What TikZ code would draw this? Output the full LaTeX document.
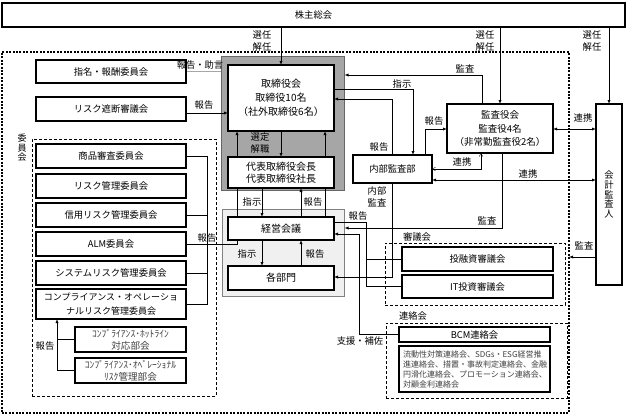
\documentclass[tikz,border=0pt]{standalone}
\usepackage{fontspec}
\setmainfont{Noto Sans CJK JP}
\usetikzlibrary{arrows,backgrounds}

\begin{document}
\begin{tikzpicture}[x=1pt, y=-1pt, >=latex, font=\fontsize{9.3}{12}\selectfont,
  boxsize/.style 2 args={minimum width=#1pt, minimum height=#2pt},
  box/.style={draw, line width=1.6pt, fill=white, inner sep=0pt, outer sep=0pt, align=center},
  frame/.style={draw, line width=0.7pt, dash pattern=on 3pt off 2pt, inner sep=0pt, outer sep=0pt},
  lbl/.style={inner sep=0pt, align=center},
  conn/.style={line width=0.7pt, black!85}]
  \useasboundingbox (0,0) rectangle (627,415);

  % groups
  \begin{scope}[on background layer]
  \node[frame, line width=2.2pt, dash pattern=on 2pt off 1.4pt, boxsize={567}{361}] (group) at (285.5,232.5) {};
  \node[draw=black!60, fill=gray!70, line width=1pt, boxsize={123}{134}, inner sep=0pt] (graybox) at (282.5,123) {};
  \node[draw=gray, fill=black!6, line width=1pt, boxsize={122}{87}, inner sep=0pt]       (mgmt)    at (283,252.5) {};
  \node[frame, boxsize={184}{257}] (iinkai)     at (124,267.5) {};
  \node[frame, boxsize={180}{62}]  (shingikai)  at (475,274)   {};
  \node[frame, boxsize={181}{75}]  (renrakukai) at (476.5,360.5) {};
  \end{scope}

  \node[box, boxsize={623}{24}]                                  (kabu)       at (313.5,15)  {株主総会};
  \node[box, boxsize={106}{66}, font=\fontsize{10}{14}\selectfont]   (board)  at (281,98)    {取締役会\\取締役10名\\（社外取締役6名）};
  \node[box, boxsize={106}{31}, font=\fontsize{10}{12.5}\selectfont] (daihyo) at (281,172.5) {代表取締役会長\\代表取締役社長};
  \node[box, boxsize={106}{23}, font=\fontsize{10}{12}\selectfont]   (keiei)  at (281,228.5) {経営会議};
  \node[box, boxsize={106}{24}, font=\fontsize{10}{12}\selectfont]   (kakubu) at (281,278)   {各部門};
  \node[box, boxsize={79}{28}]                                   (naibu)      at (392.5,169) {内部監査部};
  \node[box, boxsize={106}{49}, font=\fontsize{9.5}{13.5}\selectfont] (kansa) at (500,128.5) {監査役会\\監査役4名\\（非常勤監査役2名）};
  \node[box, boxsize={26}{181}, font=\fontsize{9.3}{9.8}\selectfont]  (kaikei) at (609,194.5) {会\\計\\監\\査\\人};

  \node[box, boxsize={150}{23}]                                  (shimei)     at (111,71.5)  {指名・報酬委員会};
  \node[box, boxsize={150}{24}]                                  (shadan)     at (111,109)   {リスク遮断審議会};
  \node[box, boxsize={150}{24}]                                  (shinsa)     at (111,156)   {商品審査委員会};
  \node[box, boxsize={150}{24}]                                  (riskkanri)  at (111,186)   {リスク管理委員会};
  \node[box, boxsize={150}{24}]                                  (shinyo)     at (111,215)   {信用リスク管理委員会};
  \node[box, boxsize={150}{24}]                                  (alm)        at (111,244)   {ALM委員会};
  \node[box, boxsize={150}{24}]                                  (system)     at (111,273)   {システムリスク管理委員会};
  \node[box, boxsize={150}{30}, font=\fontsize{9}{13.5}\selectfont]  (compliance) at (111,304) {コンプライアンス・オペレーショ\\ナルリスク管理委員会};
  \node[box, boxsize={111}{25}, text=black!75, font=\fontsize{9.6}{12}\selectfont] (hotline) at (130.5,339.5) {ｺﾝﾌﾟﾗｲｱﾝｽ･ﾎｯﾄﾗｲﾝ\\対応部会};
  \node[box, boxsize={111}{25}, text=black!75, font=\fontsize{9.6}{12}\selectfont] (opbukai) at (130.5,370.5) {ｺﾝﾌﾟﾗｲｱﾝｽ･ｵﾍﾟﾚｰｼｮﾅﾙ\\ﾘｽｸ管理部会};

  \node[box, boxsize={151}{24}]                                  (yuushi)     at (477.5,259)   {投融資審議会};
  \node[box, boxsize={151}{23}]                                  (ittoushi)   at (477.5,286.5) {IT投資審議会};
  \node[box, boxsize={151}{15}]                                  (bcm)        at (474.5,334.5) {BCM連絡会};
  \node[box, boxsize={151}{46}, text width=143pt, align=left, text=black!75, font=\fontsize{8}{10}\selectfont] (bcmlist) at (474.5,369)
    {流動性対策連絡会、SDGs・ESG経営推\\進連絡会、措置・事故判定連絡会、金融\\円滑化連絡会、プロモーション連絡会、\\対顧金利連絡会};

  % connectors
  \begin{scope}[on background layer, conn]
  \path[->] (kabu.south -| board.north)  edge (board.north)
            (kabu.south -| kansa.north)  edge (kansa.north)
            (kabu.south -| kaikei.north) edge (kaikei.north)
            (board.south)                edge (daihyo.north)
            (daihyo.south -| 262,0)      edge (keiei.north -| 262,0)
            (keiei.north -| 301,0)       edge (daihyo.south -| 301,0)
            (keiei.south -| 262,0)       edge (kakubu.north -| 262,0)
            (kakubu.north -| 301,0)      edge (keiei.south -| 301,0)
            ([yshift=-4pt]shadan.east)   edge (board.west |- 0,113);
  \draw[gray!70] (shimei.east) -- (graybox.west |- shimei.east);

  \draw (shinsa.east) -| (compliance.east -| 207,0) -- (compliance.east);
  \draw (shinyo.east) -- (shinyo.east -| 207,0);
  \draw (system.east) -- (system.east -| 207,0);
  \draw[->] (alm.east) -| (board.south -| 237,0);

  \draw[->] (ittoushi.west) -| (366,222) -| (board.south -| 325,0);
  \draw (yuushi.west) -- (yuushi.west -| 366,0);
  \draw[->] (kansa.south -| 502,0) |- (mgmt.east |- 0,228);
  \draw[->] (bcm.west) -| (359,234) -- (keiei.east |- 0,234);
  \draw[->] (naibu.south) |- (kakubu.east |- 0,277);

  \draw[->] (board.east |- 0,89) -| (naibu.north -| 413,0);
  \draw[->] (naibu.north -| 392,0) |- (board.east |- 0,99);
  \draw[->] (kansa.north -| 482,0) |- (graybox.east |- 0,75);
  \draw[->] (naibu.north -| 425,0) |- (kansa.west |- 0,129);
  \draw[angle 60-angle 60] (kansa.south -| 481,0) |- (naibu.east);
  \draw[<->] (naibu.east |- 0,180) -- (kaikei.west |- 0,180);
  \draw[<->] (kansa.east |- 0,129) -- (kaikei.west |- 0,129);
  \draw[->] (kaikei.west |- 0,257) -- (group.east |- 0,257);

  \draw[->] (opbukai.west) -| (compliance.south -| 57,0);
  \draw (hotline.west) -- (hotline.west -| 57,0);
  \end{scope}

  % labels
  \node[lbl] (l1)  at (262,41)  {選任\\解任};
  \node[lbl] (l2)  at (485,41)  {選任\\解任};
  \node[lbl] (l3)  at (592,41)  {選任\\解任};
  \node[lbl] (l4)  at (260,143) {選定\\解職};
  \node[lbl] (l5)  at (252,202) {指示};
  \node[lbl] (l6)  at (313,202) {報告};
  \node[lbl] (l7)  at (247,254) {指示};
  \node[lbl] (l8)  at (315,254) {報告};
  \node[lbl] (l9)  at (200,65)  {報告・助言};
  \node[lbl] (l10) at (204,105) {報告};
  \node[lbl] (l11) at (207,238) {報告};
  \node[lbl, font=\fontsize{9}{9.5}\selectfont] (l12) at (22,148) {委\\員\\会};
  \node[lbl] (l13) at (358,216) {報告};
  \node[lbl] (l14) at (487,221) {監査};
  \node[lbl] (l15) at (360,341) {支援・補佐};
  \node[lbl] (l16) at (377,197) {内部\\監査};
  \node[lbl] (l17) at (402,84)  {指示};
  \node[lbl] (l18) at (379,147) {報告};
  \node[lbl] (l19) at (465,69)  {監査};
  \node[lbl] (l20) at (434,121) {報告};
  \node[lbl] (l21) at (462,162) {連携};
  \node[lbl] (l22) at (528,174) {連携};
  \node[lbl] (l23) at (583,118) {連携};
  \node[lbl] (l24) at (584,246) {監査};
  \node[lbl] (l25) at (45,346)  {報告};
  \node[lbl] (l26) at (417,237) {審議会};
  \node[lbl] (l27) at (413,316) {連絡会};
\end{tikzpicture}
\end{document}
